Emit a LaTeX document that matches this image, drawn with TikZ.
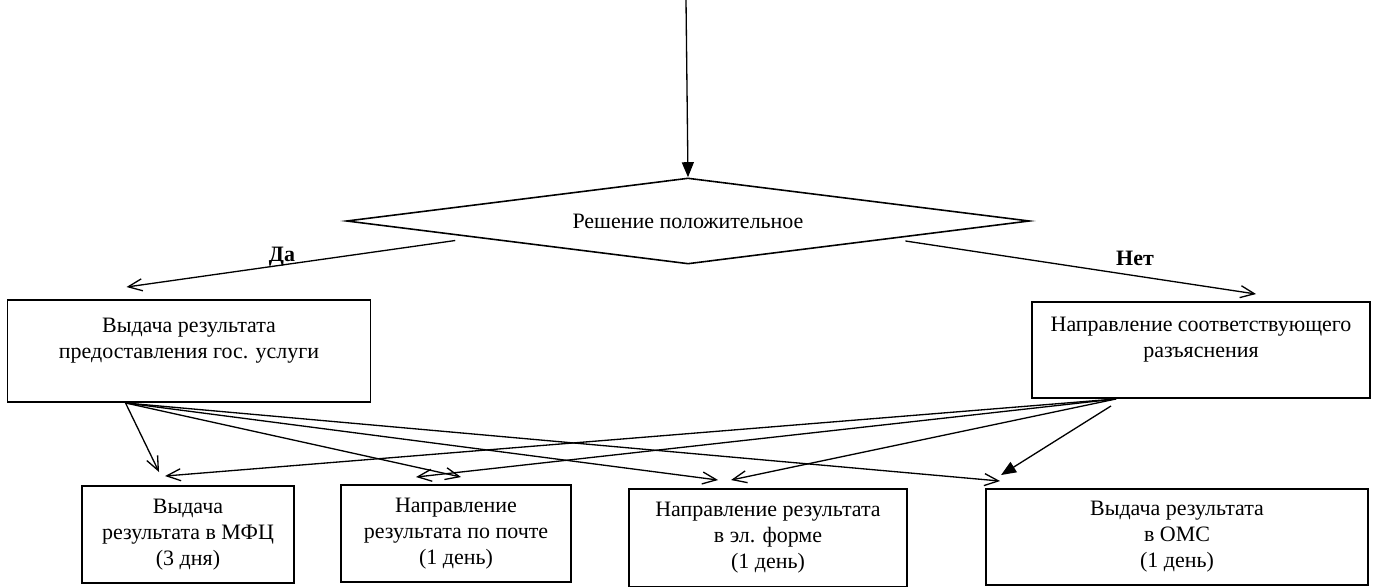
\documentclass[tikz,border=0pt]{standalone}
\usepackage{fontspec}
\setmainfont{Liberation Serif}
\usepackage{tikz}
\usetikzlibrary{arrows.meta,shapes,positioning,calc}
\tikzset{
  box/.style={draw, rectangle, line width=1.1pt, align=center, inner sep=2pt},
  decision/.style={draw, diamond, line width=0.9pt, aspect=8, inner sep=0pt},
  flow/.style={line width=0.75pt, -{Straight Barb[length=2.8mm,width=2.4mm]}},
  flowfill/.style={line width=0.75pt, -{Triangle[length=3mm,width=2.4mm]}},
  answer/.style={font=\fontsize{12.5}{14.8}\selectfont\bfseries}
}

\begin{document}
\begin{tikzpicture}[x=0.2mm, y=-0.2mm, font=\fontsize{12.5}{14.8}\selectfont]
        \useasboundingbox (0,0) rectangle (1377,587);

        \coordinate (start) at (686,0);
        \node[decision, minimum width=136.6mm, minimum height=17.2mm] (decide) at (688,221) {Решение положительное};
        \node[box, minimum width=72.6mm, minimum height=20.4mm] (issue) at (189,351) {Выдача результата\\предоставления гос. услуги\\\mbox{}};
        \node[box, minimum width=67.6mm, minimum height=19.2mm] (explain) at (1201,350) {Направление соответствующего\\разъяснения\\\mbox{}};

        \node[box, minimum width=42.4mm, minimum height=19.4mm] (mfc) at (188,534.5) {Выдача\\результата в МФЦ\\(3 дня)};
        \node[box, minimum width=46mm, minimum height=19.4mm] (post) at (456,533.5) {Направление\\результата по почте\\(1 день)};
        \node[box, minimum width=55.6mm, minimum height=19.6mm] (online) at (768,538) {Направление результата\\в эл. форме\\(1 день)};
        \node[box, minimum width=76.4mm, minimum height=19.2mm] (oms) at (1177,537) {Выдача результата\\в ОМС\\(1 день)};

        \node[answer] (yes) at (282,257) {Да};
        \node[answer] (no) at (1135,258) {Нет};

        \draw[flowfill] (start) -- (decide.north);
        \draw[flow] ([yshift=-1.1mm]$(decide.west)!0.32!(decide.south)$) -- ($(issue.north west)+(120,-12)$);
        \draw[flow] ([yshift=-0.8mm]$(decide.east)!0.365!(decide.south)$) -- ($(explain.north west)+(225,-7)$);

        \coordinate (issuefan) at ($(issue.south west)+(119,0)$);
        \coordinate (explainfan) at ($(explain.south west)+(85,0)$);

        % from the left box
        \draw[flow] (issuefan) -- ($(mfc.north west)+(78,-13)$);
        \draw[flow] (issuefan) -- ($(post.north west)+(121,-7)$);
        \draw[flow] (issuefan) -- ($(online.north west)+(90,-8)$);
        \draw[flow] (issuefan) -- ($(oms.north west)+(15,-7)$);

        % from the right box
        \draw[flow] (explainfan) -- ($(mfc.north west)+(84,-9)$);
        \draw[flow] (explainfan) -- ($(post.north west)+(76,-7)$);
        \draw[flow] (explainfan) -- ($(online.north west)+(103,-8)$);
        \draw[flowfill] ($(explain.south west)+(80,7)$) -- ($(oms.north west)+(16,-13)$);
    \end{tikzpicture}
\end{document}
